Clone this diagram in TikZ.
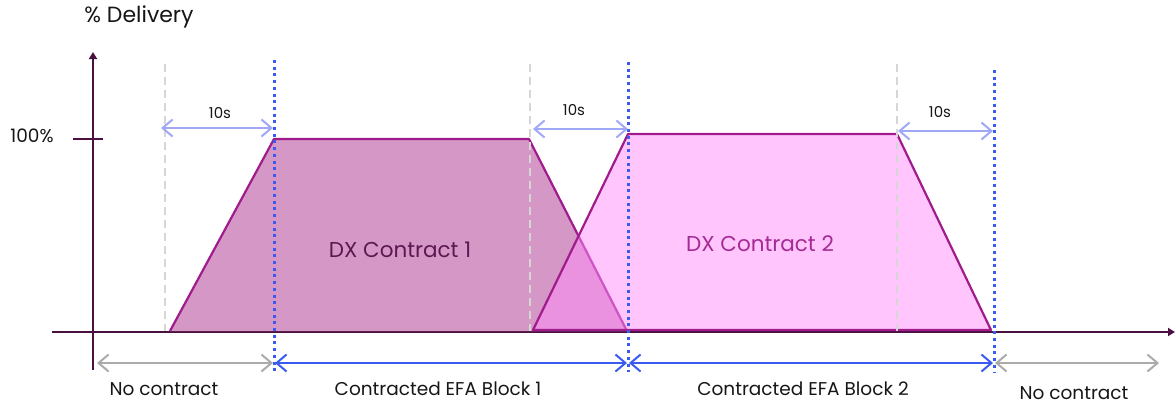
\documentclass[tikz,border=0pt]{standalone}
\usepackage{fontspec}
\setmainfont{Poppins}
\usetikzlibrary{arrows.meta}
\definecolor{axiscol}{RGB}{74,16,64}
\definecolor{edgecol}{RGB}{160,28,140}
\definecolor{cAfill}{RGB}{213,151,197}
\definecolor{cBfill}{RGB}{255,140,250}
\definecolor{cAtext}{RGB}{92,24,80}
\definecolor{cBtext}{RGB}{165,42,149}
\definecolor{dotblue}{RGB}{59,91,240}
\definecolor{paleblue}{RGB}{160,168,248}
\definecolor{arrgray}{RGB}{171,171,171}
\definecolor{dashgray}{RGB}{214,214,214}
\definecolor{txtcol}{RGB}{22,22,22}
\tikzset{
  chev/.style={arrows={Straight Barb[length=10pt,width=17pt]-Straight Barb[length=10pt,width=17pt]},line width=2pt},
  guide/.style={dashgray,line width=2pt,dash pattern=on 8pt off 5pt},
  blockline/.style={dotblue,line width=3pt,dash pattern=on 3pt off 3.7pt},
  lbl/.style={text=txtcol,font=\fontsize{18.5}{20}\selectfont,inner sep=0pt},
  sec/.style={text=txtcol,font=\fontsize{15}{17}\selectfont,inner sep=0pt}
}
\begin{document}
\begin{tikzpicture}[x=1pt,y=-1pt]
		\useasboundingbox (0,0) rectangle (1175,407);
		\draw [axiscol,line width=2pt,-{Triangle[length=7pt,width=8pt]}] (52,332) -- (1175,332);
		\draw [axiscol,line width=2pt,-{Triangle[length=7pt,width=8pt]}] (93,370) -- (93,52);
		\draw [axiscol,line width=2pt] (73,139) -- (103,139);
		\node [text=txtcol,font=\fontsize{22}{24}\selectfont,inner sep=0pt] (ylab) at (139,17) {\% Delivery};
		\node [lbl] (full) at (32,136) {100\%};
		\fill [cAfill] (170,331) -- (274,139) -- (529,139) -- (627,331) -- cycle;
		\draw [edgecol,line width=2.2pt,line join=round] (170,331) -- (274,139) -- (529,139) -- (627,331);
		\fill [cBfill,fill opacity=0.5] (533,330) -- (628,134) -- (897,134) -- (991,330) -- cycle;
		\draw [edgecol,line width=2.2pt,line join=round] (533,330) -- (628,134) -- (897,134) -- (991,330) -- cycle;
		\node [text=cAtext,font=\fontsize{21.5}{23}\selectfont,inner sep=0pt] (C1) at (400,250) {DX Contract 1};
		\node [text=cBtext,font=\fontsize{21.5}{23}\selectfont,inner sep=0pt] (C2) at (760,244) {DX Contract 2};
		\coordinate (G1) at (165,64);
		\coordinate (G2) at (530,64);
		\coordinate (G3) at (897,64);
		\coordinate (G1b) at (165,331);
		\coordinate (G2b) at (530,331);
		\coordinate (G3b) at (897,331);
		\draw [guide] (G1) -- (G1b);
		\draw [guide] (G2) -- (G2b);
		\draw [guide] (G3) -- (G3b);
		\coordinate (B1) at (274,60);
		\coordinate (B2) at (628,62);
		\coordinate (B3) at (994,70);
		\coordinate (B1b) at (274,372);
		\coordinate (B2b) at (628,372);
		\coordinate (B3b) at (994,372);
		\draw [blockline] (B1) -- (B1b);
		\draw [blockline] (B2) -- (B2b);
		\draw [blockline] (B3) -- (B3b);
		\coordinate (T1a) at (161,128);
		\coordinate (T1b) at (273,128);
		\coordinate (T2a) at (533,129);
		\coordinate (T2b) at (628,129);
		\coordinate (T3a) at (898,131);
		\coordinate (T3b) at (993,131);
		\draw [chev,paleblue] (T1a) -- (T1b);
		\draw [chev,paleblue] (T2a) -- (T2b);
		\draw [chev,paleblue] (T3a) -- (T3b);
		\node [sec] (S1) at (220,113) {10s};
		\node [sec] (S2) at (574,110) {10s};
		\node [sec] (S3) at (940,112) {10s};
		\coordinate (N0) at (97,363);
		\coordinate (N1) at (273,363);
		\coordinate (E1) at (275,363);
		\coordinate (E2) at (627,363);
		\coordinate (E3) at (629,363);
		\coordinate (E4) at (993,363);
		\coordinate (N2) at (995,363);
		\coordinate (N3) at (1159,363);
		\draw [chev,arrgray] (N0) -- (N1);
		\draw [chev,dotblue] (E1) -- (E2);
		\draw [chev,dotblue] (E3) -- (E4);
		\draw [chev,arrgray] (N2) -- (N3);
		\node [lbl] (L1) at (164,389) {No contract};
		\node [lbl] (L2) at (438,389) {Contracted EFA Block 1};
		\node [lbl] (L3) at (803,389) {Contracted EFA Block 2};
		\node [lbl] (L4) at (1074,393) {No contract};
	\end{tikzpicture}
\end{document}
